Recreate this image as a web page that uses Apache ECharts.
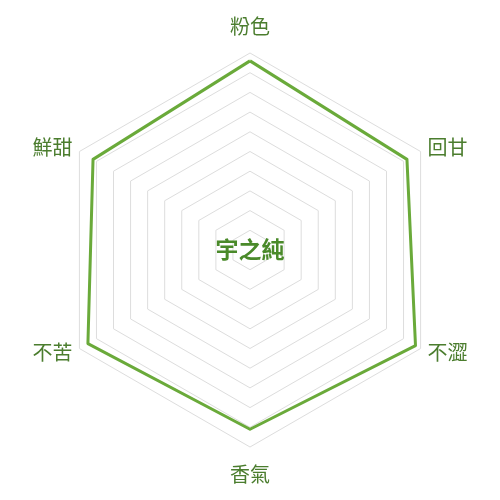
<!DOCTYPE html>
<html>
<head>
<meta charset="utf-8">
<script src="https://cdn.jsdelivr.net/npm/echarts@6/dist/echarts.min.js"></script>
<style>html,body{margin:0;padding:0;background:#fff}#c{width:500px;height:500px}</style>
</head>
<body>
<div id="c"></div>
<script>
const indicatorNames = ['粉色', '鮮甜', '不苦', '香氣', '不澀', '回甘'];
const indicatorMax = [100, 100, 100, 100, 100, 100];
const seriesValues = [96, 92, 95, 91, 97, 92];
const centerTitle = '宇之純';

const chart = echarts.init(document.getElementById('c'), null, {renderer: 'canvas'});
chart.setOption({
  animation: false,
  backgroundColor: '#ffffff',
  title: {
    text: centerTitle,
    left: 'center',
    top: 233,
    textStyle: {
      color: '#4a8a2a',
      fontSize: 23,
      fontWeight: 'bold',
      fontFamily: '"Noto Sans CJK TC", sans-serif'
    }
  },
  radar: {
    center: [250, 250],
    radius: 197,
    startAngle: 90,
    splitNumber: 10,
    shape: 'polygon',
    nameGap: 8,
    axisName: {
      color: '#4b7d2e',
      fontSize: 20,
      padding: [9, 0, 9, 0],
      fontFamily: '"Noto Sans CJK TC", sans-serif'
    },
    indicator: indicatorNames.map((n, i) => ({name: n, max: indicatorMax[i]})),
    splitLine: {lineStyle: {color: '#dddddd', width: 1}},
    splitArea: {show: false},
    axisLine: {show: false},
    axisTick: {show: false},
    axisLabel: {show: false}
  },
  series: [{
    type: 'radar',
    symbol: 'none',
    lineStyle: {color: '#6aaa3a', width: 3},
    data: [{value: seriesValues, name: centerTitle}]
  }]
});
</script>
</body>
</html>
